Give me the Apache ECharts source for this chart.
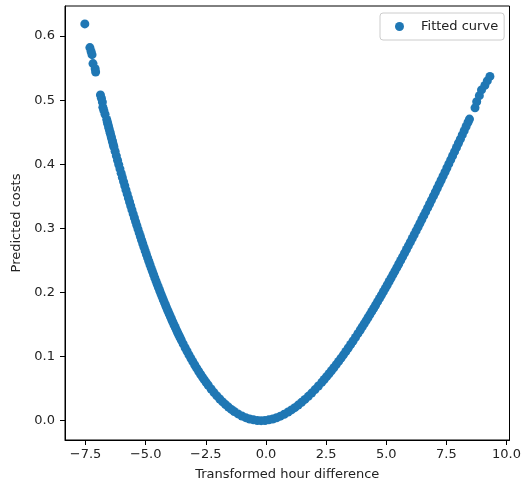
<!DOCTYPE html>
<html>
<head>
<meta charset="utf-8">
<script src="https://cdn.jsdelivr.net/npm/echarts@6/dist/echarts.min.js"></script>
<style>
html,body{margin:0;padding:0;background:#fff;}
#chart{width:524px;height:486px;}
</style>
</head>
<body>
<div id="chart"></div>
<script>
// Tick labels
var xTicks = [-7.5, -5.0, -2.5, 0.0, 2.5, 5.0, 7.5, 10.0];
var yTicks = [0.0, 0.1, 0.2, 0.3, 0.4, 0.5, 0.6];
var seriesName = 'Fitted curve';
var xTitle = 'Transformed hour difference';
var yTitle = 'Predicted costs';

// Points, [x, y]
var leftTail = [
  [-7.53,0.619],[-7.32,0.582],[-7.27,0.576],[-7.23,0.571],[-7.19,0.557],[-7.10,0.549],[-7.08,0.544],
  [-6.88,0.508],[-6.84,0.503],[-6.80,0.497],[-6.78,0.489],[-6.74,0.484],[-6.69,0.478]
];
var leftBranch = [
  [-6.62,0.4699],[-6.59,0.4655],[-6.57,0.4626],[-6.54,0.4582],[-6.52,0.4553],[-6.49,0.4510],[-6.47,0.4482],
  [-6.44,0.4439],[-6.42,0.4411],[-6.39,0.4368],[-6.37,0.4340],[-6.34,0.4298],[-6.32,0.4270],
  [-6.27,0.4200],[-6.22,0.4131],[-6.17,0.4063],[-6.12,0.3995],[-6.07,0.3928],[-6.02,0.3861],[-5.97,0.3795],
  [-5.92,0.3730],[-5.87,0.3665],[-5.82,0.3600],[-5.77,0.3537],[-5.72,0.3474],[-5.67,0.3411],[-5.62,0.3349],
  [-5.57,0.3288],[-5.52,0.3226],[-5.47,0.3166],[-5.42,0.3106],[-5.37,0.3047],[-5.32,0.2988],[-5.27,0.2930],
  [-5.22,0.2873],[-5.17,0.2816],[-5.12,0.2760],[-5.07,0.2704],[-5.02,0.2648],[-4.97,0.2594],[-4.92,0.2540],
  [-4.87,0.2486],[-4.82,0.2433],[-4.77,0.2380],[-4.72,0.2329],[-4.67,0.2278],[-4.62,0.2227],[-4.57,0.2177],
  [-4.52,0.2127],[-4.47,0.2079],[-4.42,0.2030],[-4.37,0.1982],[-4.32,0.1935],[-4.27,0.1888],[-4.22,0.1842],
  [-4.17,0.1797],[-4.12,0.1752],[-4.07,0.1707],[-4.02,0.1664],[-3.97,0.1620],[-3.92,0.1578],[-3.87,0.1536],
  [-3.82,0.1494],[-3.77,0.1453],[-3.72,0.1413],[-3.67,0.1373],[-3.62,0.1334],[-3.57,0.1295],[-3.52,0.1257],
  [-3.44,0.1197],[-3.36,0.1138],[-3.28,0.1082],[-3.20,0.1026],[-3.12,0.0972],[-3.04,0.0920],[-2.96,0.0868],
  [-2.88,0.0819],[-2.80,0.0771],[-2.72,0.0724],[-2.64,0.0679],[-2.56,0.0635],[-2.48,0.0593],[-2.40,0.0552],
  [-2.28,0.0493],[-2.16,0.0438],[-2.04,0.0386],[-1.92,0.0337],[-1.80,0.0292],[-1.68,0.0250],[-1.56,0.0211],
  [-1.44,0.0175],[-1.32,0.0143]
];
var bottom = [
  [-1.16,0.0105],[-1.00,0.0073],[-0.84,0.0047],[-0.68,0.0026],[-0.52,0.0012],[-0.36,0.0003],[-0.20,0.0000],
  [-0.04,0.0003],[0.12,0.0012],[0.28,0.0026],[0.44,0.0046],[0.60,0.0070],[0.76,0.0100],[0.92,0.0134]
];
var rightBranch = [
  [1.06,0.0167],[1.20,0.0203],[1.34,0.0243],[1.48,0.0286],[1.62,0.0331],[1.76,0.0379],[1.90,0.0430],
  [2.04,0.0484],[2.18,0.0540],[2.32,0.0598],[2.42,0.0642],[2.52,0.0686],[2.62,0.0732],[2.72,0.0778],
  [2.82,0.0826],[2.92,0.0875],[3.02,0.0924],[3.12,0.0975],[3.22,0.1027],[3.32,0.1079],[3.42,0.1133],
  [3.52,0.1188],[3.62,0.1243],[3.72,0.1299],[3.82,0.1357],[3.92,0.1415],[4.00,0.1462],[4.08,0.1509],
  [4.16,0.1557],[4.24,0.1606],[4.32,0.1655],[4.40,0.1704],[4.48,0.1754],[4.56,0.1805],[4.64,0.1856],
  [4.72,0.1907],[4.80,0.1959],[4.88,0.2011],[4.96,0.2064],[5.04,0.2117],[5.12,0.2170],[5.20,0.2224],
  [5.28,0.2279],[5.36,0.2333],[5.44,0.2388],[5.52,0.2444],[5.60,0.2500],[5.68,0.2556],[5.76,0.2613],
  [5.84,0.2670],[5.92,0.2727],[6.00,0.2785],[6.08,0.2843],[6.16,0.2901],[6.24,0.2960],[6.32,0.3019],
  [6.40,0.3078],[6.48,0.3138],[6.56,0.3198],[6.64,0.3258],[6.72,0.3319],[6.80,0.3380],[6.88,0.3441],
  [6.96,0.3502],[7.04,0.3564],[7.12,0.3626],[7.20,0.3689],[7.28,0.3751],[7.36,0.3814],[7.44,0.3877],
  [7.52,0.3941],[7.60,0.4005],[7.68,0.4069],[7.76,0.4133],[7.84,0.4197],[7.92,0.4262],[8.00,0.4327],
  [8.08,0.4392],[8.16,0.4458],[8.24,0.4523],[8.32,0.4589],[8.40,0.4655],[8.46,0.4705]
];
var rightTail = [
  [8.69,0.488],[8.76,0.4975],[8.87,0.507],[8.96,0.516],[9.10,0.523],[9.20,0.530],[9.31,0.537]
];

var points = [].concat(leftTail, leftBranch, bottom, rightBranch, rightTail);

function fmt(v) {
  var s = Number(v).toFixed(1);
  return s.replace('-', '\u2212');
}

var chart = echarts.init(document.getElementById('chart'), null, {renderer: 'canvas'});
var font = 'DejaVu Sans';
chart.setOption({
  animation: false,
  backgroundColor: '#ffffff',
  textStyle: {fontFamily: font},
  grid: {left: 65, right: 11, top: 6, bottom: 45, show: true, borderColor: '#000', borderWidth: 1, backgroundColor: 'transparent'},
  legend: {
    data: [seriesName],
    left: 380, top: 13,
    padding: [7, 6, 7, 15],
    backgroundColor: '#fff',
    borderColor: '#cccccc', borderWidth: 1, borderRadius: 3,
    itemWidth: 9, itemHeight: 9,
    icon: 'circle',
    textStyle: {fontFamily: font, fontSize: 13, color: '#222', padding: [0, 0, 0, 12]}
  },
  xAxis: {
    type: 'value',
    min: -8.354, max: 10.124,
    name: xTitle, nameLocation: 'middle', nameGap: 28,
    nameTextStyle: {fontFamily: font, fontSize: 13, color: '#222'},
    axisLine: {show: true, onZero: false, lineStyle: {color: '#000', width: 1}},
    axisTick: {show: true, length: 5, lineStyle: {color: '#000'}, customValues: xTicks},
    axisLabel: {show: true, margin: 8, fontFamily: font, fontSize: 13, color: '#222', customValues: xTicks, formatter: fmt},
    splitLine: {show: false}
  },
  yAxis: {
    type: 'value',
    min: -0.0302, max: 0.6469,
    name: yTitle, nameLocation: 'middle', nameGap: 38, nameRotate: 90,
    nameTextStyle: {fontFamily: font, fontSize: 13, color: '#222'},
    axisLine: {show: true, onZero: false, lineStyle: {color: '#000', width: 1}},
    axisTick: {show: true, length: 5, lineStyle: {color: '#000'}, customValues: yTicks},
    axisLabel: {show: true, margin: 10, fontFamily: font, fontSize: 13, color: '#222', customValues: yTicks, formatter: fmt},
    splitLine: {show: false}
  },
  series: [{
    name: seriesName,
    type: 'scatter',
    symbol: 'circle',
    symbolSize: 9,
    itemStyle: {color: '#1f77b4', opacity: 1},
    data: points
  }]
});
</script>
</body>
</html>
